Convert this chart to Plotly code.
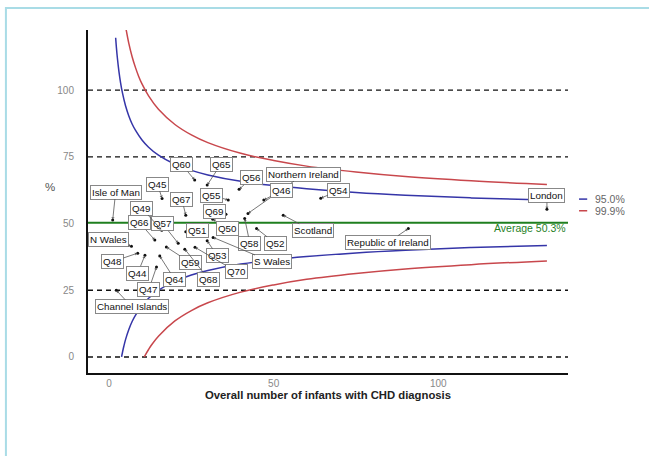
import plotly.graph_objects as go

# --- units: number of infants with CHD diagnosis and percentage ---
units = ["Isle of Man", "Channel Islands", "N Wales", "Q48", "Q44", "Q47", "Q66", "Q57",
         "Q49", "Q45", "Q67", "Q60", "Q65", "Q55", "Q69", "Q56", "Northern Ireland", "Q46",
         "Q54", "Scotland", "Q50", "Q51", "Q58", "Q52", "Q53", "S Wales", "Q70", "Q59",
         "Q64", "Q68", "Republic of Ireland", "London"]
infants = [1.1, 2.2, 6.8, 8.7, 10.9, 14.4, 13.9, 21.0,
           16.0, 16.1, 23.3, 26.0, 29.8, 36.2, 35.5, 39.5, 42.2, 47.0,
           64.3, 52.9, 31.5, 23.3, 41.2, 44.8, 29.8, 31.6, 26.1, 17.4,
           15.4, 23.0, 90.9, 133.0]
percent = [51.3, 25.0, 41.5, 38.9, 38.1, 33.7, 43.8, 42.6,
           47.5, 59.4, 53.1, 66.3, 64.4, 58.8, 53.5, 62.8, 53.8, 58.8,
           59.5, 53.1, 51.6, 46.9, 51.9, 48.1, 43.5, 44.8, 41.1, 41.2,
           37.8, 40.4, 48.1, 55.3]

average = 50.3

# --- funnel control limits ---
n95_up = [2, 2.25, 2.5, 3, 3.5, 4, 5, 6, 7, 8, 10, 12, 15, 20, 25, 30, 40, 50, 60, 75, 90, 110, 133]
v95_up = [119.6, 115.6, 112.3, 106.9, 102.7, 99.3, 94.1, 90.3, 87.3, 85.0, 81.3, 78.6, 75.6,
          72.2, 69.9, 68.2, 65.8, 64.2, 63.0, 61.6, 60.6, 59.6, 58.8]
n95_lo = [3.8, 4, 4.5, 5, 6, 7, 8, 10, 12, 15, 20, 25, 30, 40, 50, 60, 75, 90, 110, 133]
v95_lo = [0.0, 1.3, 4.1, 6.5, 10.3, 13.3, 15.6, 19.3, 22.0, 25.0, 28.4, 30.7, 32.4,
          34.8, 36.4, 37.6, 39.0, 40.0, 41.0, 41.8]
n999_up = [5, 6, 7, 8, 9, 10, 12, 15, 20, 25, 30, 40, 50, 60, 75, 90, 110, 133]
v999_up = [123.9, 117.5, 112.5, 108.5, 105.1, 102.3, 97.8, 92.8, 87.1, 83.2, 80.3, 76.3,
           73.6, 71.5, 69.3, 67.6, 66.0, 64.6]
n999_lo = [10.7, 11, 12, 13, 15, 20, 25, 30, 40, 50, 60, 75, 90, 110, 133]
v999_lo = [0.0, 0.7, 2.8, 4.7, 7.8, 13.5, 17.4, 20.3, 24.3, 27.0, 29.1, 31.3, 33.0, 34.6, 36.0]

reference_levels = [0, 25, 75, 100]
x_ticks = [0, 50, 100]
y_ticks = [0, 25, 50, 75, 100]

# label box placement (data units) for each unit
label_x = [2.0, 6.9, -0.1, 1.0, 8.7, 12.1, 9.3, 16.3,
           9.9, 14.7, 22.1, 22.1, 34.0, 31.2, 32.1, 43.3, 59.2, 52.4,
           69.8, 61.8, 35.9, 27.0, 42.8, 50.7, 32.9, 49.4, 38.8, 24.8,
           20.0, 30.3, 84.6, 133.0]
label_y = [61.8, 18.8, 43.9, 35.7, 31.4, 25.4, 50.3, 49.9,
           55.8, 64.8, 59.1, 72.1, 72.3, 60.6, 54.4, 67.1, 68.5, 62.3,
           62.3, 47.3, 48.3, 47.3, 42.4, 42.4, 37.9, 35.6, 31.9, 35.3,
           28.9, 29.1, 42.8, 60.5]

BLUE = "#3535a8"
RED = "#c8474c"
GREEN = "#1f7f1f"
FONT = "Arial, Liberation Sans, sans-serif"

fig = go.Figure()

for xs, ys, col in [(n95_up, v95_up, BLUE), (n95_lo, v95_lo, BLUE),
                    (n999_up, v999_up, RED), (n999_lo, v999_lo, RED)]:
    fig.add_trace(go.Scatter(x=xs, y=ys, mode="lines", line=dict(color=col, width=1.5, shape="spline"),
                             showlegend=False, hoverinfo="skip"))

fig.add_trace(go.Scatter(x=infants, y=percent, mode="markers", text=units,
                         marker=dict(color="#111", size=3), showlegend=False))

shapes = []
for lv in reference_levels:
    shapes.append(dict(type="line", xref="paper", yref="y", x0=0, x1=1, y0=lv, y1=lv,
                       line=dict(color="#111", width=1.3, dash="5px,4px"), layer="below"))
shapes.append(dict(type="line", xref="paper", yref="y", x0=0, x1=1, y0=average, y1=average,
                   line=dict(color=GREEN, width=2)))
# outer frame
shapes.append(dict(type="rect", xref="paper", yref="paper", x0=-0.171, x1=1.25, y0=-0.3, y1=1.064,
                   line=dict(color="#a9dce6", width=2)))
# legend keys
shapes.append(dict(type="line", xref="paper", yref="paper", x0=1.023, x1=1.040, y0=0.507, y1=0.507,
                   line=dict(color=BLUE, width=1.5)))
shapes.append(dict(type="line", xref="paper", yref="paper", x0=1.023, x1=1.040, y0=0.473, y1=0.473,
                   line=dict(color=RED, width=1.5)))

annotations = []
for name, px, py, lx, ly in zip(units, infants, percent, label_x, label_y):
    annotations.append(dict(x=px, y=py, ax=lx, ay=ly, xref="x", yref="y", axref="x", ayref="y",
                            text=name, showarrow=True, arrowhead=1, arrowsize=0.7, arrowwidth=0.8,
                            arrowcolor="#555", standoff=1,
                            font=dict(family=FONT, size=9.8, color="#111"),
                            bgcolor="white", bordercolor="#888", borderwidth=1, borderpad=1))

annotations.append(dict(x=1.0, y=average - 2, xref="paper", yref="y", text="Average 50.3%",
                        showarrow=False, xanchor="right", yanchor="middle",
                        font=dict(family=FONT, size=10.5, color=GREEN)))
annotations.append(dict(x=1.052, y=0.507, xref="paper", yref="paper", text="95.0%", showarrow=False,
                        xanchor="left", yanchor="middle", font=dict(family=FONT, size=10.5, color="#666")))
annotations.append(dict(x=1.052, y=0.473, xref="paper", yref="paper", text="99.9%", showarrow=False,
                        xanchor="left", yanchor="middle", font=dict(family=FONT, size=10.5, color="#666")))
annotations.append(dict(x=-0.079, y=63.8, xref="paper", yref="y", text="%", showarrow=False,
                        xanchor="center", yanchor="middle", font=dict(family=FONT, size=11.5, color="#555")))

fig.update_layout(
    width=649, height=456,
    margin=dict(l=88, r=81, t=30, b=83),
    paper_bgcolor="white", plot_bgcolor="white",
    font=dict(family=FONT),
    shapes=shapes, annotations=annotations,
    xaxis=dict(range=[-6.4, 139.4], tickvals=x_ticks, showgrid=False, zeroline=False,
               showline=True, linecolor="#111", linewidth=2, ticks="",
               tickfont=dict(size=10, color="#888"), ticklabelstandoff=0,
               title=dict(text="<b>Overall number of infants with CHD diagnosis</b>",
                          font=dict(size=11.3, color="#222"), standoff=1)),
    yaxis=dict(range=[-6, 122.5], tickvals=y_ticks, showgrid=False, zeroline=False,
               showline=True, linecolor="#111", linewidth=2, ticks="",
               tickfont=dict(size=10, color="#888"), ticklabelstandoff=10),
)

fig.write_html("out.html")
